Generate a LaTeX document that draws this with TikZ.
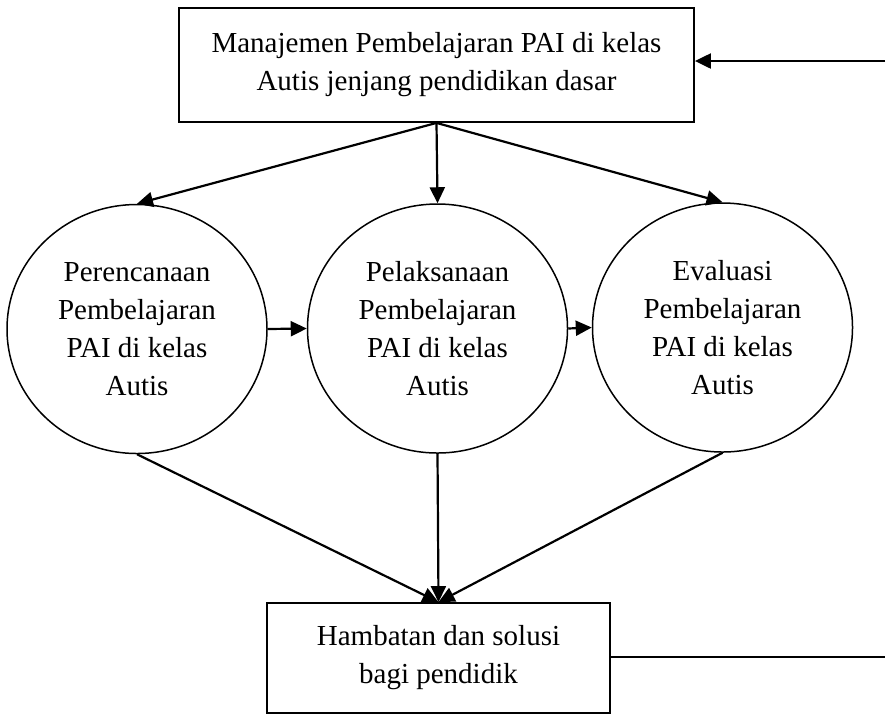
\documentclass[tikz,border=0pt]{standalone}
\usepackage{fontspec}
\setmainfont{Liberation Serif}
\usetikzlibrary{shapes.geometric,arrows.meta}
\begin{document}
\begin{tikzpicture}[x=0.5pt,y=-0.5pt,
  teks/.style={align=center, font=\fontsize{14.5}{19}\selectfont},
  kotak/.style={teks, draw=black, line width=0.9pt, inner sep=0pt},
  bulat/.style={teks, ellipse, draw=black, line width=0.75pt, inner sep=0pt,
    minimum width=130pt, minimum height=124.5pt},
  panah/.style={line width=1.1pt, -{Triangle[length=8pt,width=7.5pt]}}]
\useasboundingbox (0,0) rectangle (887,714);

\coordinate (M) at (436.5,65);
\coordinate (P1) at (137,329);
\coordinate (P2) at (437.5,328.5);
\coordinate (P3) at (722.5,327.5);
\coordinate (H) at (438.5,658);

\node[kotak, minimum width=257.5pt, minimum height=57pt] (manajemen) at (M)
  {Manajemen Pembelajaran PAI di kelas\\Autis jenjang pendidikan dasar};
\node[bulat] (perencanaan) at (P1) {Perencanaan\\Pembelajaran\\PAI di kelas\\Autis};
\node[bulat] (pelaksanaan) at (P2) {Pelaksanaan\\Pembelajaran\\PAI di kelas\\Autis};
\node[bulat] (evaluasi) at (P3) {Evaluasi\\Pembelajaran\\PAI di kelas\\Autis};
\node[kotak, minimum width=171.5pt, minimum height=55pt] (hambatan) at (H)
  {Hambatan dan solusi\\bagi pendidik};

\coordinate (balikA) at (885,61);
\coordinate (balikB) at (885,657);

\draw[panah] (manajemen.south) -- (perencanaan.north);
\draw[panah] (manajemen.south) -- (pelaksanaan.north);
\draw[panah] (manajemen.south) -- (evaluasi.north);

\draw[panah] (perencanaan.east) -- (pelaksanaan.west);
\draw[panah] (pelaksanaan.east) -- (evaluasi.west);

\draw[panah] (perencanaan.south) -- (hambatan.north);
\draw[panah] (pelaksanaan.south) -- (hambatan.north);
\draw[panah] (evaluasi.south) -- (hambatan.north);

\draw[line width=1.1pt] (hambatan.east |- balikB) -- (balikB);
\draw[panah] (balikA) -- (manajemen.east |- balikA);
\end{tikzpicture}
\end{document}
